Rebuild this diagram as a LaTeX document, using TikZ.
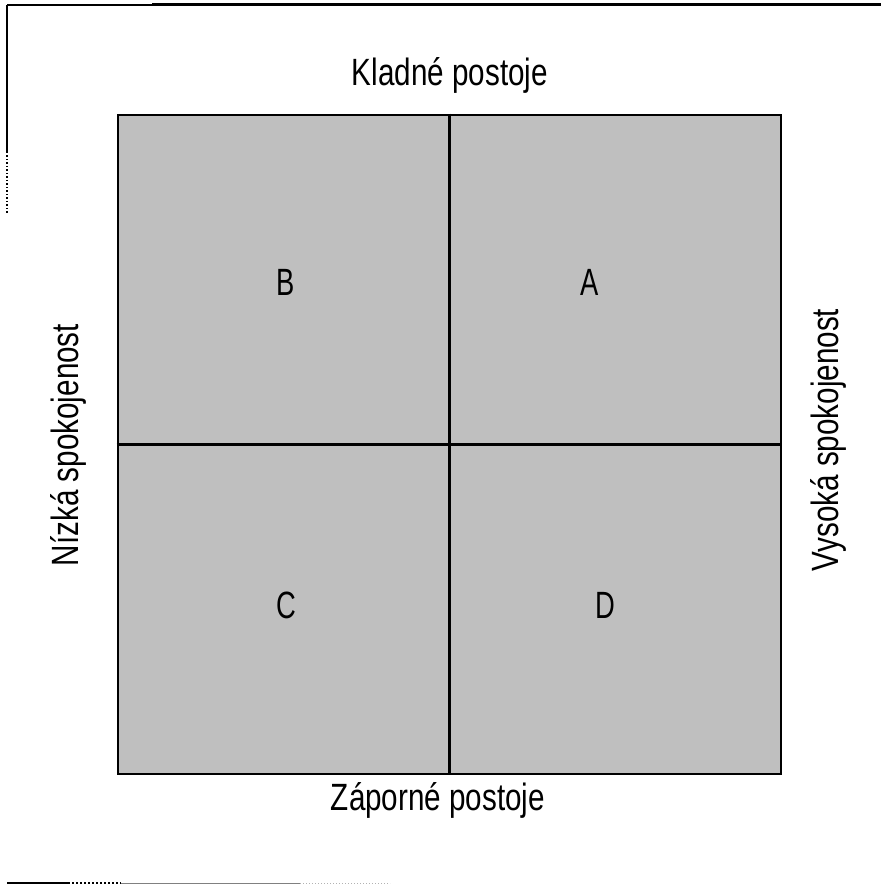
\documentclass[tikz,border=0pt]{standalone}
\usepackage{fontspec}
\setmainfont{Liberation Sans}
\usepackage{graphicx}
\begin{document}
\begin{tikzpicture}[x=1pt,y=-1pt,
  lbl/.style={inner sep=0pt, font=\fontsize{38}{40}\selectfont},
  quad/.style={inner sep=0pt, font=\fontsize{38}{40}\selectfont},
  frame/.style={line width=3pt, black},
  divider/.style={line width=2.2pt, black}]
\useasboundingbox (0,0) rectangle (881,885);
% outer frame fragments
\coordinate (tl) at (7,5);
\coordinate (tr) at (881,5);
\coordinate (tm) at (152,5);
\coordinate (ls) at (7,152);
\coordinate (le) at (7,215);
\draw[line width=1.8pt] (tl) -- (tm);
\draw[frame] (tm) -- (tr);
\draw[line width=2.2pt] (tl) -- (ls);
\draw[line width=1.5pt, dotted] (ls) -- (le);
\coordinate (b0) at (7,883);
\coordinate (b1) at (68,883);
\coordinate (b2) at (121,883);
\coordinate (b3) at (300,883);
\coordinate (b4) at (390,883);
\draw[line width=2.5pt] (b0) -- (b1);
\draw[line width=2pt, dotted] (b1) -- (b2);
\draw[line width=1pt, gray] (b2) -- (b3);
\draw[line width=1pt, gray!60, dotted] (b3) -- (b4);
% main box
\node (box) [draw, line width=2.6pt, fill=black!25, minimum width=663pt, minimum height=659pt, inner sep=0pt] at (449.5,444.5) {};
\draw[divider] (box.north) -- (box.south);
\draw[divider] (box.west) -- (box.east);
% quadrant letters
\node (B) [quad] at (286,282) {\scalebox{0.72}[1]{B}};
\node (A) [quad] at (590,282) {\scalebox{0.72}[1]{A}};
\node (C) [quad] at (286,605) {\scalebox{0.72}[1]{C}};
\node (D) [quad] at (605,605) {\scalebox{0.72}[1]{D}};
% axis labels
\node (top) [lbl] at (450,75) {\scalebox{0.78}[1]{Kladné postoje}};
\node (bottom) [lbl] at (438,800) {\scalebox{0.78}[1]{Záporné postoje}};
\node (left) [lbl, rotate=90] at (68,445) {\scalebox{0.78}[1]{Nízká spokojenost}};
\node (right) [lbl, rotate=90] at (828,440) {\scalebox{0.78}[1]{Vysoká spokojenost}};
\end{tikzpicture}
\end{document}
